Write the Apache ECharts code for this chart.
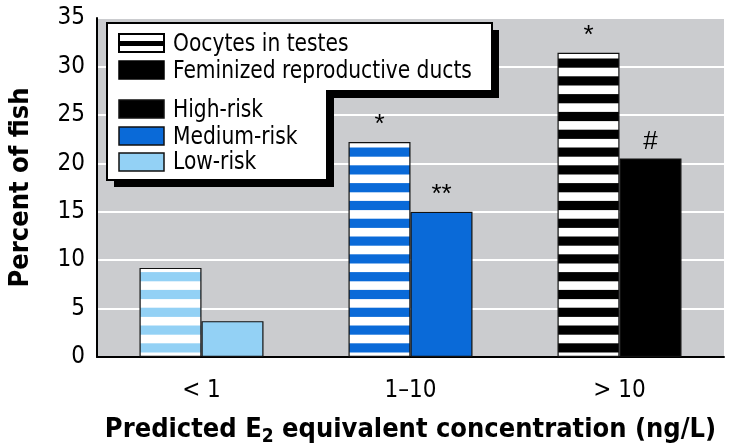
<!DOCTYPE html>
<html><head><meta charset="utf-8">
<script src="https://cdn.jsdelivr.net/npm/echarts@6/dist/echarts.min.js"></script>
<style>html,body{margin:0;padding:0;background:#fff}#c{width:731px;height:448px}</style>
</head><body><div id="c"></div>
<script>
// ---- data ----
const categories = ['< 1', '1–10', '> 10'];
const oocytes = [9.2, 22.2, 31.4];
const ducts = [3.7, 15.0, 20.5];
const oocyteMarks = ['', '*', '*'];
const ductMarks = ['', '**', '#'];
const measureNames = ['Oocytes in testes', 'Feminized reproductive ducts'];
const riskNames = ['High-risk', 'Medium-risk', 'Low-risk'];
const riskColors = ['#93d1f5', '#0a6ad8', '#000000']; // low, medium, high (category order)
const legendRiskColors = ['#000000', '#0a6ad8', '#93d1f5'];
const yMin = 0, yMax = 35, yStep = 5;

const FONT = '"Liberation Sans Narrow", "DejaVu Sans Condensed", "Arial Narrow", sans-serif';

function stripes(color) {
  const c = document.createElement('canvas');
  c.width = 8; c.height = 89;
  const g = c.getContext('2d');
  g.fillStyle = color; g.fillRect(0, 0, 8, 89);
  g.fillStyle = '#ffffff';
  for (let k = -1; k < 6; k++) {
    g.fillRect(0, 14.3 + 17.8 * k, 8, 8.6);
  }
  return c;
}

const chart = echarts.init(document.getElementById('c'), null, {renderer: 'canvas'});

const legendTextY = [44, 71, 110, 137, 162];
const iconX = 119, iconW = 45, iconH = 19;
const g = [];
// box shadow + box
g.push({type: 'polygon', shape: {points: [[114,30],[499,30],[499,98],[334,98],[334,187],[114,187]]}, style: {fill: '#000'}, z: 100});
g.push({type: 'polygon', shape: {points: [[107,23],[492,23],[492,91],[327,91],[327,180],[107,180]]}, style: {fill: '#fff', stroke: '#000', lineWidth: 2}, z: 101});
// oocyte icon
g.push({type: 'rect', shape: {x: iconX, y: 34, width: iconW, height: iconH - 1}, style: {fill: '#fff', stroke: '#000', lineWidth: 2}, z: 102});
g.push({type: 'rect', shape: {x: iconX, y: 41, width: iconW, height: 5}, style: {fill: '#000'}, z: 103});
// ducts icon
g.push({type: 'rect', shape: {x: iconX, y: 61, width: iconW, height: iconH - 1}, style: {fill: '#000', stroke: '#000', lineWidth: 1.5}, z: 102});
const riskIconY = [100, 127, 153];
riskNames.forEach((n, i) => {
  g.push({type: 'rect', shape: {x: iconX, y: riskIconY[i], width: iconW, height: iconH - 1}, style: {fill: legendRiskColors[i], stroke: '#111', lineWidth: 1.5}, z: 102});
});
const legendLabels = measureNames.concat(riskNames);
legendLabels.forEach((t, i) => {
  g.push({type: 'text', x: 173, y: legendTextY[i], scaleX: 0.9, style: {text: t, fill: '#000', font: '25px ' + FONT, verticalAlign: 'middle'}, z: 104});
});

const labelStyle = {show: true, position: 'top', distance: 4, color: '#000', fontSize: 26, fontFamily: 'Liberation Sans, Arial, sans-serif'};

chart.setOption({
  animation: false,
  backgroundColor: '#ffffff',
  grid: {left: 97, right: 7, top: 18, bottom: 91, show: true, backgroundColor: '#cbcccf', borderWidth: 0, outerBoundsMode: 'none', containLabel: false},
  xAxis: {
    type: 'category', data: categories,
    axisLine: {lineStyle: {color: '#000', width: 2}},
    axisTick: {show: false},
    axisLabel: {color: '#000', fontSize: 24, fontFamily: FONT, margin: 22, interval: 0},
    name: 'Predicted E{sub|2} equivalent concentration (ng/L)',
    nameLocation: 'middle', nameGap: 56,
    nameTextStyle: {color: '#000', fontSize: 27, fontWeight: 'bold', fontFamily: FONT,
      rich: {sub: {fontSize: 19, fontWeight: 'bold', fontFamily: FONT, color: '#000', padding: [15, 0, 0, 0]}}}
  },
  yAxis: {
    type: 'value', min: yMin, max: yMax, interval: yStep,
    axisLine: {show: true, lineStyle: {color: '#000', width: 2}},
    axisTick: {show: false},
    axisLabel: {color: '#000', fontSize: 24, fontFamily: FONT, margin: 12},
    splitLine: {lineStyle: {color: '#ffffff', width: 2}},
    name: 'Percent of fish', nameLocation: 'middle', nameGap: 63,
    nameTextStyle: {color: '#000', fontSize: 27, fontWeight: 'bold', fontFamily: FONT}
  },
  series: [
    {
      type: 'bar', name: measureNames[0], barWidth: 62, barGap: '0%',
      itemStyle: {borderColor: '#111', borderWidth: 1.2},
      label: labelStyle,
      data: oocytes.map((v, i) => ({value: v, itemStyle: {color: {image: stripes(riskColors[i]), repeat: 'repeat'}}, label: {formatter: oocyteMarks[i]}}))
    },
    {
      type: 'bar', name: measureNames[1], barWidth: 62, barGap: '0%',
      itemStyle: {borderColor: '#111', borderWidth: 1.2},
      label: labelStyle,
      data: ducts.map((v, i) => ({value: v, itemStyle: {color: riskColors[i]}, label: {formatter: ductMarks[i]}}))
    }
  ],
  graphic: g
});
</script></body></html>
